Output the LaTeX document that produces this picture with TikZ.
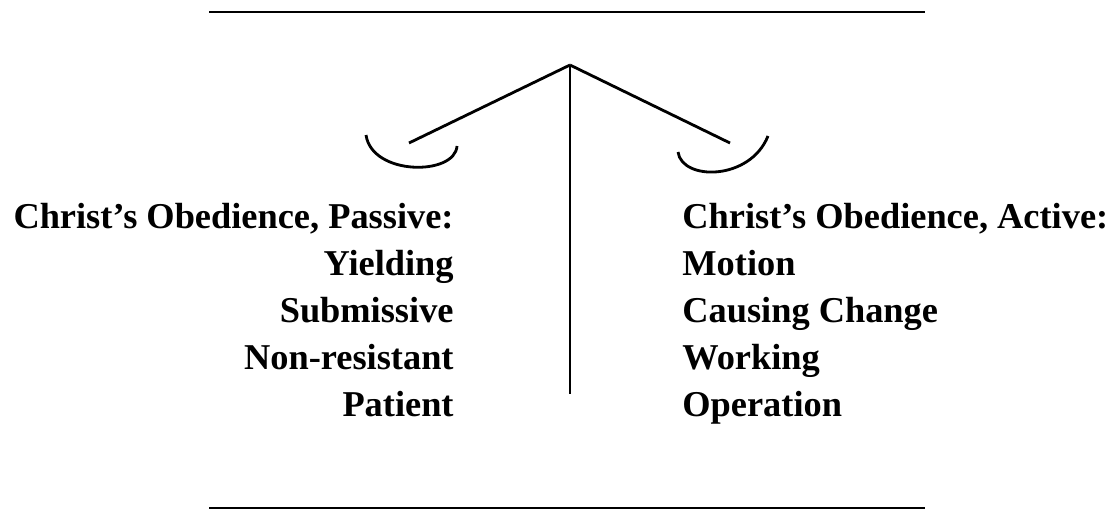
\documentclass[tikz,border=0pt]{standalone}
\usepackage{fontspec}
\setmainfont{Liberation Serif}

\begin{document}
\begin{tikzpicture}[x=0.02cm, y=-0.02cm, line width=1.6pt,
		every node/.style={font=\bfseries\fontsize{20.7}{24}\selectfont, inner sep=0pt},
		passivelabel/.style={anchor=base east},
		activelabel/.style={anchor=base west}]
		\useasboundingbox (0,0) rectangle (1119,510);
		\draw (209,12) -- (925,12);
		\draw (209,508) -- (925,508);
		\coordinate (apex) at (570,65);
		\coordinate (foot) at (570,394);
		\coordinate (leftend) at (409,143);
		\coordinate (rightend) at (730,143);
		\draw (apex) -- (foot);
		\draw (apex) -- (leftend);
		\draw (apex) -- (rightend);
		% the two pans
		\draw (366,135) .. controls (372,176) and (455,176) .. (457,146);
		\draw (678,152) .. controls (682,181) and (750,181) .. (768,136);
		\node[passivelabel] (passive) at (455,228) {Christ's Obedience, Passive:};
		\node[passivelabel] (yielding) at (455,275) {Yielding};
		\node[passivelabel] (submissive) at (455,322) {Submissive};
		\node[passivelabel] (nonresistant) at (455,369) {Non-resistant};
		\node[passivelabel] (patient) at (455,416) {Patient};
		\node[activelabel] (active) at (681,228) {Christ's Obedience, Active:};
		\node[activelabel] (motion) at (681,275) {Motion};
		\node[activelabel] (causing) at (681,322) {Causing Change};
		\node[activelabel] (working) at (681,369) {Working};
		\node[activelabel] (operation) at (681,416) {Operation};
	\end{tikzpicture}
\end{document}
